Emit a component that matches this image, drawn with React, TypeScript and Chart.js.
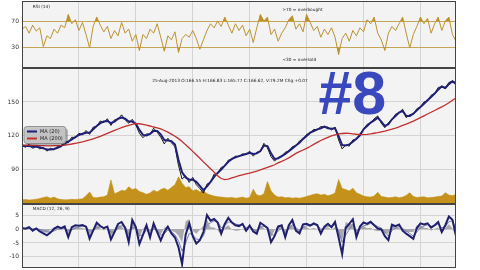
import { useEffect, useRef } from 'react';
import { Chart, registerables } from 'chart.js';

Chart.register(...registerables);

// ---- time axis (sampled every 1/16 year from Jan 2006) ----
const START_YEAR = 2006;
const STEP_YEARS = 0.0625;
const X_MIN = 2006;
const X_MAX = 2013.625;

// ---- RSI (14) ----
const rsi = [
  58, 62, 52, 64, 55, 60, 32, 48, 44, 58,
  52, 64, 60, 80, 66, 72, 56, 68, 50, 30,
  62, 76, 64, 54, 62, 44, 56, 48, 68, 52,
  58, 40, 50, 26, 50, 44, 58, 52, 66, 46,
  25, 48, 42, 54, 23, 44, 50, 46, 56, 44,
  28, 42, 56, 66, 60, 70, 62, 76, 64, 52,
  66, 56, 64, 48, 58, 38, 60, 80, 70, 76,
  50, 58, 40, 52, 60, 72, 78, 58, 66, 54,
  80, 68, 56, 62, 46, 58, 50, 60, 46, 20,
  44, 52, 40, 56, 48, 60, 54, 72, 66, 76,
  52, 42, 26, 52, 62, 56, 66, 76, 52, 30,
  50, 62, 76, 66, 74, 52, 66, 76, 56, 70,
  76, 50, 40,
];

// ---- price ----
const closePrice = [
  111, 109.5, 112, 108.5, 110.5, 108, 109.5, 106, 108.5, 107,
  110.5, 110, 115, 113.5, 118.5, 118, 122, 120.5, 124.5, 121,
  127.5, 128, 133, 131.5, 135, 129, 134, 134.5, 138.5, 134,
  131, 134.5, 129.5, 122, 118, 121.5, 121, 126.5, 123, 118.5,
  112.5, 117.5, 113.5, 110, 93, 81, 84, 78, 82.5, 76,
  72.5, 68.5, 76.5, 78, 85.5, 86, 91.5, 92.5, 98, 98.5,
  101.5, 101, 103.5, 103, 106, 101.5, 105, 105.5, 113, 109,
  101, 97, 100.5, 101, 105, 106, 110, 111, 115, 116.5,
  121, 122, 125.5, 125, 128, 127.5, 127.5, 125, 127.5, 116,
  108, 111.5, 110.5, 116, 116.5, 121.5, 125.5, 130, 131, 135,
  137.5, 131, 127, 131.5, 134, 139, 140.5, 143.5, 136, 138.5,
  139, 144, 145.5, 150, 151, 156, 157.5, 163, 163.5, 162,
  167.5, 168.5, 165,
];

const ma20 = [
  110.5, 110.5, 110.5, 110, 110, 109.5, 108.5, 107.5, 107.5, 108,
  109, 110.5, 113, 114.5, 116.5, 118.5, 120.5, 121.5, 122.5, 122.5,
  125.5, 128.5, 131, 132.5, 133, 131, 132.5, 135, 136, 135,
  132.5, 132.5, 130.5, 125, 120.5, 120, 121.5, 124, 124, 121,
  116, 115.5, 115, 112, 98, 87, 82.5, 80.5, 80.5, 78.5,
  75, 71, 74.5, 78.5, 83, 86.5, 89.5, 93, 96.5, 99,
  100.5, 101.5, 102.5, 103.5, 104.5, 103.5, 104, 106, 111, 110.5,
  104, 99, 99.5, 101.5, 103.5, 106, 108.5, 111, 113.5, 117,
  119.5, 122.5, 124, 125.5, 126.5, 128, 126.5, 126, 126.5, 119.5,
  111.5, 111, 112, 114.5, 117, 120, 125.5, 128.5, 131.5, 133.5,
  136, 132.5, 128.5, 130, 134.5, 137.5, 140.5, 142, 137.5, 137.5,
  139.5, 142.5, 145.5, 148.5, 151.5, 154.5, 157.5, 161, 164, 162.5,
  166, 168.5, 166.5,
];

const ma200 = [
  111.5, 111.4, 111.3, 111.2, 111.1, 111, 110.9, 110.8, 110.8, 110.9,
  111, 111.2, 111.5, 111.9, 112.4, 113, 113.6, 114.3, 115.1, 116,
  117, 118.1, 119.3, 120.6, 121.9, 123.2, 124.5, 125.8, 127, 128.1,
  129.1, 130, 130.6, 130.5, 130, 129.3, 128.5, 127.6, 126.8, 125.9,
  124.5, 123, 121.2, 119.3, 117.2, 114.6, 111.8, 108.8, 105.8, 102.7,
  99.6, 96.4, 93.3, 90.2, 87.2, 84, 81.5, 80.5, 81, 82,
  83, 84, 84.8, 85.6, 86.4, 87.3, 88.2, 89.2, 90.3, 91.4,
  92.6, 93.8, 95.5, 96.8, 98.3, 100, 102, 104, 105.5, 107,
  108.5, 110.2, 112, 113.8, 115.5, 117, 118.4, 119.6, 120.6, 121.4,
  121.8, 122, 121.9, 121.5, 121.1, 120.9, 120.8, 121, 121.4, 122,
  122.6, 123.3, 124, 124.8, 125.7, 126.7, 127.8, 129, 130.2, 131.5,
  132.9, 134.4, 136, 137.6, 139.2, 140.8, 142.4, 144, 145.6, 147.3,
  149.3, 151.5, 153.6,
];

// dollar volume, millions
const volume = [
  120, 130, 115, 125, 140, 160, 190, 210, 170, 200,
  150, 130, 120, 125, 135, 130, 140, 150, 240, 350,
  190, 180, 200, 210, 260, 700, 300, 340, 400, 380,
  500, 420, 450, 360, 330, 280, 320, 400, 350, 420,
  460, 400, 480, 560, 790, 600, 480, 500, 380, 420,
  350, 380, 300, 260, 230, 210, 200, 190, 180, 190,
  170, 180, 200, 170, 190, 430, 260, 240, 300, 650,
  380, 260, 200, 210, 180, 190, 170, 180, 170, 190,
  220, 250, 280, 300, 260, 280, 240, 270, 320, 710,
  450, 420, 380, 460, 330, 280, 230, 210, 200, 230,
  340, 220, 200, 180, 190, 210, 180, 200, 250, 330,
  220, 190, 200, 210, 180, 190, 200, 220, 230, 330,
  260, 240, 280,
];

// ---- MACD (12, 26, 9) ----
const macd = [
  0.5, 0.2, 0.8, -0.5, 0.3, -0.8, -1.5, -2.2, -1.2, 0.2,
  1.0, 0.4, 1.1, -2.9, 0.8, 1.5, 1.3, 1.6, 1.0, -3.4,
  -0.5, 2.4, 1.2, 0.4, 1.0, -3.7, -1.0, 2.0, 2.7, 0.5,
  -4.7, 3.4, 0.8, -5.4, -2.0, 1.5, -3.0, 2.2, -1.0, -4.1,
  -1.0, 1.0, -1.5, -3.0, -6.6, -12.8, -2.0, 2.2, -2.5, -5.2,
  -4.0, -1.0, 5.2, 3.2, 3.8, 2.5, -1.6, 2.0, 4.2, 2.5,
  1.5, 1.2, 2.0, -0.5, 1.4, -0.8, -1.6, 2.4, 1.5, 0.5,
  -4.7, -2.5, 1.0, 1.5, -2.9, 1.5, 3.4, -0.5, -1.5, 1.8,
  2.0, 1.4, 2.2, 1.6, -1.6, 1.0, 2.0, 0.8, 2.7, -3.0,
  -9.1, 0.6, 2.0, 3.7, -2.9, 1.0, 2.5, 2.0, 2.8, 1.5,
  0.3, 0.0, -2.5, -4.0, 1.7, 1.2, 1.8, -0.5, -1.6, -2.5,
  -3.5, 0.5, 2.2, 1.8, 2.2, 0.6, 1.5, 2.7, -1.0, 1.5,
  4.7, 3.5, -2.5,
];

const signal = [
  0.3, 0.3, 0.4, 0.2, 0.2, 0.0, -0.4, -0.9, -1.0, -0.6,
  0.0, 0.2, 0.5, -0.5, -0.2, 0.4, 0.8, 1.1, 1.0, -0.6,
  -0.6, 0.6, 0.9, 0.7, 0.8, -1.0, -1.0, 0.4, 1.5, 1.0,
  -1.8, 0.6, 0.7, -2.3, -2.1, -0.3, -1.6, 0.2, -0.4, -2.2,
  -1.6, -0.3, -0.9, -2.0, -4.2, -8.0, -5.0, -1.5, -2.0, -3.6,
  -3.8, -2.4, 1.6, 2.4, 3.1, 2.8, 0.6, 1.3, 2.7, 2.6,
  2.0, 1.6, 1.8, 0.6, 1.0, 0.1, -0.7, 0.8, 1.1, 0.8,
  -1.9, -2.2, -0.6, 0.4, -1.2, 0.1, 1.7, 0.6, -0.4, 0.7,
  1.3, 1.3, 1.7, 1.6, 0.0, 0.5, 1.2, 1.0, 1.8, -0.6,
  -4.8, -2.1, -0.1, 1.8, -0.5, 0.2, 1.3, 1.6, 2.2, 1.8,
  1.0, 0.5, -1.0, -2.5, -0.4, 0.4, 1.1, 0.3, -0.6, -1.5,
  -2.5, -1.0, 0.6, 1.2, 1.7, 1.1, 1.3, 2.0, 0.5, 1.0,
  2.8, 3.1, 0.3,
];

// ---- tick labels ----
const rsiTicks = [30, 70];
const priceTicks = [90, 120, 150];
const macdTicks = [5, 0, -5, -10];

// ---- texts ----
const rsiLabel = 'RSI (14)';
const overboughtLabel = '>70 = overbought';
const oversoldLabel = '<30 = oversold';
const headerText = '25-Aug-2013 O:166.55 H:166.83 L:165.77 C:166.62, V:79.2M Chg:+0.07';
const macdLabel = 'MACD (12, 26, 9)';
const overlayText = '#8';

// ---- styles ----
const FONT = '"DejaVu Sans", "Noto Sans", sans-serif';
const PLOT_BG = '#f3f3f3';
const GRID = '#d4d4d4';
const SPINE = '#444444';
const TICK_COLOR = '#333333';
const GOLD = '#bf9230';
const GOLD_GRID = 'rgba(190,150,60,0.85)';
const GOLD_FILL = 'rgba(184,134,11,0.9)';
const VOL_COLOR = '#c4921a';
const MA20_COLOR = '#1f1f78';
const MA200_COLOR = '#c03030';
const MACD_COLOR = '#1f1f6e';
const SIGNAL_COLOR = '#7c82b0';
const HIST_COLOR = 'rgba(120,120,128,0.6)';
const TEXT_SIZE = 4.3;

const toPoints = (values: number[]) =>
  values.map((v, i) => ({ x: START_YEAR + i * STEP_YEARS, y: v }));

type TextItem = {
  text: string;
  fx: number;
  fy: number;
  baseline: CanvasTextBaseline;
  font: string;
  color: string;
};

function panelPlugin(items: TextItem[], extra?: (chart: any) => void) {
  return {
    id: 'panelDecor',
    beforeDraw(chart: any) {
      const { ctx, chartArea: a } = chart;
      ctx.save();
      ctx.fillStyle = PLOT_BG;
      ctx.fillRect(a.left, a.top, a.right - a.left, a.bottom - a.top);
      ctx.restore();
    },
    afterDraw(chart: any) {
      const { ctx, chartArea: a } = chart;
      ctx.save();
      if (extra) extra(chart);
      for (const t of items) {
        ctx.font = t.font;
        ctx.fillStyle = t.color;
        ctx.textBaseline = t.baseline;
        ctx.textAlign = 'left';
        ctx.fillText(
          t.text,
          a.left + t.fx * (a.right - a.left),
          a.bottom - t.fy * (a.bottom - a.top)
        );
      }
      ctx.strokeStyle = SPINE;
      ctx.lineWidth = 1;
      ctx.strokeRect(a.left + 0.5, a.top + 0.5, a.right - a.left - 1, a.bottom - a.top - 1);
      ctx.restore();
    },
  };
}

function drawLegend(chart: any) {
  const { ctx, chartArea: a } = chart;
  const entries = chart.data.datasets.filter(
    (d: any) => d.label && !String(d.label).startsWith('_')
  );
  const w = 42;
  const h = 17;
  const x0 = a.left + 2;
  const y0 = (a.top + a.bottom) / 2 - h / 2 - 1;
  ctx.fillStyle = 'rgba(0,0,0,0.25)';
  ctx.beginPath();
  ctx.roundRect(x0 + 2, y0 + 2, w, h, 3);
  ctx.fill();
  ctx.fillStyle = 'rgba(196,196,196,0.9)';
  ctx.strokeStyle = '#808080';
  ctx.lineWidth = 0.8;
  ctx.beginPath();
  ctx.roundRect(x0, y0, w, h, 3);
  ctx.fill();
  ctx.stroke();
  entries.forEach((d: any, i: number) => {
    const y = y0 + 5 + i * 7;
    ctx.strokeStyle = d.borderColor;
    ctx.lineWidth = 2;
    ctx.beginPath();
    ctx.moveTo(x0 + 3, y);
    ctx.lineTo(x0 + 13, y);
    ctx.stroke();
    ctx.fillStyle = '#222';
    ctx.font = `5px ${FONT}`;
    ctx.textBaseline = 'middle';
    ctx.textAlign = 'left';
    ctx.fillText(d.label, x0 + 16, y + 0.3);
  });
}

const xScale = () => ({
  type: 'linear',
  min: X_MIN,
  max: X_MAX,
  ticks: { display: false, stepSize: 1, includeBounds: false },
  grid: { color: GRID, drawTicks: false, lineWidth: 1 },
  border: { display: false },
  afterFit: (s: any) => {
    s.height = 0;
    s.paddingLeft = 0;
    s.paddingRight = 0;
    s.paddingTop = 0;
    s.paddingBottom = 0;
  },
});

const yScale = (min: number, max: number, ticks: number[], gridColor: string) => ({
  type: 'linear',
  position: 'left',
  min,
  max,
  afterBuildTicks: (s: any) => {
    s.ticks = ticks.map((v) => ({ value: v }));
  },
  ticks: { color: TICK_COLOR, font: { family: FONT, size: 6 }, padding: 3 },
  grid: { color: gridColor, drawTicks: false, lineWidth: 1 },
  border: { display: false },
  afterFit: (s: any) => {
    s.width = 22;
    s.paddingTop = 0;
    s.paddingBottom = 0;
    s.paddingLeft = 0;
    s.paddingRight = 0;
  },
});

const baseOptions = (padTop: number, padBottom: number) => ({
  animation: false,
  responsive: false,
  events: [],
  layout: { padding: { left: 0, right: 24, top: padTop, bottom: padBottom } },
  plugins: { legend: { display: false }, tooltip: { enabled: false } },
  elements: { point: { radius: 0 }, line: { tension: 0 } },
});

const txt = (size: number, weight = '') => `${weight} ${size}px ${FONT}`.trim();

function rsiConfig(): any {
  return {
    type: 'line',
    data: {
      datasets: [
        {
          label: '_rsi',
          data: toPoints(rsi),
          borderColor: GOLD,
          borderWidth: 1,
          fill: false,
          order: 1,
        },
        {
          label: '_over',
          data: toPoints(rsi),
          borderWidth: 0,
          borderColor: 'rgba(0,0,0,0)',
          fill: { target: { value: 70 }, above: GOLD_FILL, below: 'rgba(0,0,0,0)' },
          order: 2,
        },
        {
          label: '_under',
          data: toPoints(rsi),
          borderWidth: 0,
          borderColor: 'rgba(0,0,0,0)',
          fill: { target: { value: 30 }, above: 'rgba(0,0,0,0)', below: GOLD_FILL },
          order: 3,
        },
      ],
    },
    options: {
      ...baseOptions(1, 0),
      scales: { x: xScale(), y: yScale(0, 100, rsiTicks, GOLD_GRID) },
    },
    plugins: [
      panelPlugin([
        { text: rsiLabel, fx: 0.025, fy: 0.95, baseline: 'top', font: txt(TEXT_SIZE), color: '#222' },
        { text: overboughtLabel, fx: 0.6, fy: 0.9, baseline: 'top', font: txt(TEXT_SIZE), color: '#222' },
        { text: oversoldLabel, fx: 0.6, fy: 0.1, baseline: 'alphabetic', font: txt(TEXT_SIZE), color: '#222' },
      ]),
    ],
  };
}

function priceConfig(): any {
  const vmax = Math.max(...volume);
  return {
    type: 'line',
    data: {
      datasets: [
        {
          label: '_volume',
          data: toPoints(volume),
          yAxisID: 'yv',
          borderColor: VOL_COLOR,
          backgroundColor: VOL_COLOR,
          borderWidth: 0.6,
          fill: 'origin',
          order: 4,
        },
        {
          label: '_close',
          data: toPoints(closePrice),
          yAxisID: 'y',
          borderColor: '#000000',
          borderWidth: 0.9,
          fill: false,
          order: 3,
        },
        {
          label: 'MA (20)',
          data: toPoints(ma20),
          yAxisID: 'y',
          borderColor: MA20_COLOR,
          borderWidth: 2,
          fill: false,
          order: 2,
        },
        {
          label: 'MA (200)',
          data: toPoints(ma200),
          yAxisID: 'y',
          borderColor: MA200_COLOR,
          borderWidth: 1.3,
          fill: false,
          order: 1,
        },
      ],
    },
    options: {
      ...baseOptions(0, 0),
      scales: {
        x: xScale(),
        y: yScale(58.7, 180.4, priceTicks, GRID),
        yv: { type: 'linear', display: false, min: 0, max: 5 * vmax },
      },
    },
    plugins: [
      panelPlugin(
        [
          { text: headerText, fx: 0.3, fy: 0.9, baseline: 'alphabetic', font: txt(TEXT_SIZE), color: '#222' },
          {
            text: overlayText,
            fx: 0.683,
            fy: 0.665,
            baseline: 'alphabetic',
            font: `bold 61px "Liberation Sans", Arial, sans-serif`,
            color: '#3a48be',
          },
        ],
        drawLegend
      ),
    ],
  };
}

function macdConfig(): any {
  const hist = macd.map((m, i) => m - signal[i]);
  return {
    type: 'line',
    data: {
      datasets: [
        {
          label: '_hist',
          data: toPoints(hist),
          borderWidth: 0,
          borderColor: 'rgba(0,0,0,0)',
          backgroundColor: HIST_COLOR,
          fill: 'origin',
          order: 3,
        },
        {
          label: '_signal',
          data: toPoints(signal),
          borderColor: SIGNAL_COLOR,
          borderWidth: 1,
          fill: false,
          order: 2,
        },
        {
          label: '_macd',
          data: toPoints(macd),
          borderColor: MACD_COLOR,
          borderWidth: 2,
          fill: false,
          order: 1,
        },
      ],
    },
    options: {
      ...baseOptions(0, 2),
      scales: { x: xScale(), y: yScale(-14.2, 9.3, macdTicks, GRID) },
    },
    plugins: [
      panelPlugin([
        { text: macdLabel, fx: 0.025, fy: 0.95, baseline: 'top', font: txt(TEXT_SIZE), color: '#222' },
      ]),
    ],
  };
}

function ChartCanvas({ top, height, makeConfig }: { top: number; height: number; makeConfig: () => any }) {
  const ref = useRef<HTMLCanvasElement>(null);
  useEffect(() => {
    if (!ref.current) return;
    const chart = new Chart(ref.current, makeConfig());
    return () => chart.destroy();
  }, [makeConfig]);
  return (
    <canvas
      ref={ref}
      width={480}
      height={height}
      style={{ position: 'absolute', left: 0, top, width: 480, height, display: 'block' }}
    />
  );
}

export default function App() {
  return (
    <div
      style={{
        position: 'fixed',
        left: 0,
        top: 0,
        width: 480,
        height: 270,
        background: '#ffffff',
        overflow: 'hidden',
      }}
    >
      <ChartCanvas top={0} height={68} makeConfig={rsiConfig} />
      <ChartCanvas top={68} height={136} makeConfig={priceConfig} />
      <ChartCanvas top={204} height={66} makeConfig={macdConfig} />
    </div>
  );
}
